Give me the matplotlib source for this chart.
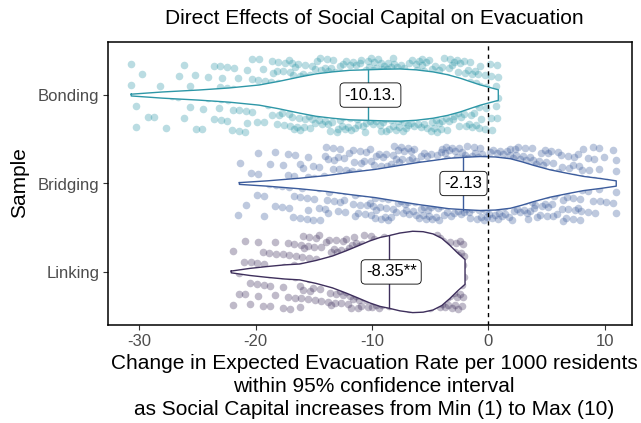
import numpy as np
import matplotlib
matplotlib.use("Agg")
import matplotlib.pyplot as plt

plt.rcParams['font.family'] = ['Liberation Sans', 'DejaVu Sans']

# groups, bottom to top
groups = ["Linking", "Bridging", "Bonding"]
colors = ["#3e2f5c", "#3c5c9c", "#2e97a7"]
estimates = ["-8.35**", "-2.13", "-10.13."]
label_x = [-8.35, -2.13, -10.13]
medians = [-8.55, -2.16, -10.3]

# violin outline: x positions and half-widths (y units)
linking_x = [-22.1, -20.5, -19.1, -17.5, -16.2, -14.8, -13.4, -12.2, -11.1, -10.2, -9.3, -8.55, -7.6, -6.5, -5.6, -4.75, -4.0, -3.3, -2.6, -2.0]
linking_w = [0.01, 0.04, 0.06, 0.08, 0.09, 0.13, 0.18, 0.24, 0.30, 0.35, 0.39, 0.41, 0.44, 0.46, 0.455, 0.43, 0.38, 0.30, 0.21, 0.14]
bridging_x = [-21.4, -19.0, -16.2, -13.9, -11.9, -9.7, -7.6, -5.9, -4.75, -3.4, -2.16, -0.7, 0.6, 1.9, 2.9, 3.9, 5.3, 6.8, 8.2, 9.7, 11.0]
bridging_w = [0.01, 0.03, 0.06, 0.09, 0.125, 0.16, 0.205, 0.24, 0.26, 0.285, 0.295, 0.305, 0.30, 0.28, 0.245, 0.205, 0.155, 0.115, 0.08, 0.055, 0.03]
bonding_x = [-30.7, -28.0, -24.9, -22.3, -19.7, -18.0, -16.2, -14.8, -13.4, -11.9, -10.3, -9.0, -7.6, -6.2, -4.75, -3.5, -2.4, -1.5, -0.7, 0.86]
bonding_w = [0.01, 0.035, 0.057, 0.08, 0.114, 0.155, 0.205, 0.24, 0.262, 0.28, 0.286, 0.292, 0.295, 0.285, 0.262, 0.23, 0.19, 0.15, 0.115, 0.06]

# point counts per 2-unit bin
linking_bins = np.arange(-22, -1, 2)
linking_counts = [10, 16, 20, 26, 34, 50, 64, 72, 66, 46]
bridging_bins = np.arange(-22, 13, 2)
bridging_counts = [4, 10, 14, 18, 24, 30, 36, 42, 48, 52, 56, 54, 46, 36, 28, 20, 8]
bonding_bins = np.arange(-31, 2, 2)
bonding_counts = [6, 4, 8, 10, 14, 18, 26, 34, 42, 48, 54, 56, 52, 46, 36, 22]

profiles = [(linking_x, linking_w), (bridging_x, bridging_w), (bonding_x, bonding_w)]
bins = [(linking_bins, linking_counts, -22.0, -2.0),
        (bridging_bins, bridging_counts, -21.5, 11.0),
        (bonding_bins, bonding_counts, -30.7, 0.9)]

fig = plt.figure(figsize=(6.41, 4.23), dpi=100)
ax = fig.add_axes([108.3 / 641, 1 - 325 / 423, (631.7 - 108.3) / 641, 283 / 423])

a1, a2 = 0.7548776662, 0.5698402910
for i, (g, col) in enumerate(zip(groups, colors)):
    ypos = i + 1
    edges, counts, lo, hi = bins[i]
    xs, ys = [], []
    n = 0
    for e, c in zip(edges, counts):
        for k in range(c):
            n += 1
            x = e + ((n * a1 + 0.3 * i) % 1.0) * 2
            xs.append(min(max(x, lo), hi))
            ys.append(ypos + ((n * a2 + 0.5) % 1.0 - 0.5) * 0.84)
    ax.scatter(xs, ys, s=30, color=col, alpha=0.33, linewidths=0, zorder=2)

    px, pw = profiles[i]
    px = np.array(px)
    pw = np.array(pw)
    ax.fill_between(px, ypos - pw, ypos + pw, facecolor="white", edgecolor="none", zorder=3)
    ax.plot(np.r_[px, px[::-1], px[0]], np.r_[ypos + pw, (ypos - pw)[::-1], ypos + pw[0]],
            color=col, lw=1.0, zorder=4)
    mw = np.interp(medians[i], px, pw)
    ax.plot([medians[i], medians[i]], [ypos - mw, ypos + mw], color=col, lw=1.0, zorder=4)
    ax.text(label_x[i], ypos, estimates[i], ha="center", va="center", fontsize=12, zorder=6,
            bbox=dict(boxstyle="round,pad=0.28,rounding_size=0.25", fc="white", ec="black", lw=0.6))

ax.axvline(0, color="black", ls=(0, (3, 3)), lw=1.0, zorder=5)

ax.set_xlim(-32.67, 12.33)
ax.set_ylim(0.4, 3.6)
ax.set_xticks([-30, -20, -10, 0, 10])
ax.set_xticklabels(["-30", "-20", "-10", "0", "10"])
ax.set_yticks([1, 2, 3])
ax.set_yticklabels(groups)
ax.tick_params(labelsize=12, labelcolor="#4d4d4d", length=3.5, width=0.8, color="#333333", pad=3)
for s in ax.spines.values():
    s.set_linewidth(1.1)

fig.text(374 / 641, 1 - 19 / 423, "Direct Effects of Social Capital on Evacuation",
         ha="center", va="center", fontsize=15)
xlab_lines = ["Change in Expected Evacuation Rate per 1000 residents",
              "within 95% confidence interval",
              "as Social Capital increases from Min (1) to Max (10)"]
for k, (line, base) in enumerate(zip(xlab_lines, [369, 392, 415])):
    fig.text(374 / 641, 1 - base / 423, line, ha="center", va="baseline", fontsize=15)
fig.text(20 / 641, 1 - 183 / 423, "Sample", rotation=90, ha="center", va="center", fontsize=15)

fig.savefig("out.png", dpi=100)
